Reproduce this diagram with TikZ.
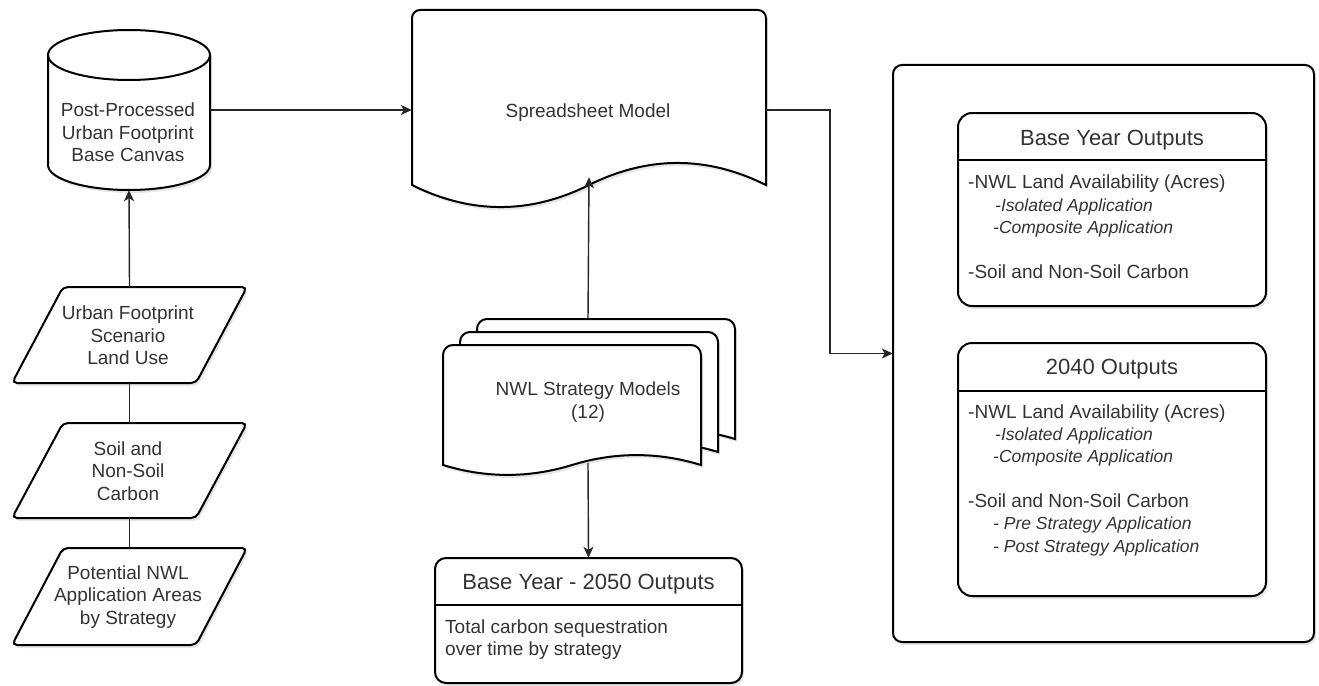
\documentclass[tikz,border=0pt]{standalone}
\usepackage{fontspec}
\setmainfont{Liberation Sans}
\usetikzlibrary{arrows.meta,shadows}
\definecolor{txtc}{HTML}{333333}
\definecolor{shadc}{HTML}{8A8AA0}
\tikzset{
  shp/.style={draw=black, line width=2pt, fill=white,
    drop shadow={shadow xshift=2pt, shadow yshift=-3pt, opacity=0.22, fill=shadc}},
  edgeline/.style={line width=2pt, draw=black},
  conn/.style={draw=black!85, line width=1.4pt, -{Stealth[length=11pt,width=10pt,inset=3pt]}},
  plainconn/.style={draw=black!85, line width=1.4pt},
  lbl/.style={font=\fontsize{19}{22.5}\selectfont, text=txtc, align=center, inner sep=0pt, text height=14pt, text depth=4pt},
  lbltwo/.style={lbl, font=\fontsize{19}{23}\selectfont, text height=37pt},
  lblthree/.style={lbl, text height=59pt},
  lbll/.style={lbl, align=left, anchor=west},
  itl/.style={font=\fontsize{17.5}{22}\selectfont\itshape, text=txtc, inner sep=0pt, anchor=west, text height=13pt, text depth=4pt},
  ttl/.style={font=\fontsize{22}{26}\selectfont, text=txtc, inner sep=0pt, text height=16pt, text depth=4pt},
  holder/.style={draw=none, fill=none, inner sep=0pt}
}
% document shape: x0, top, width, y of ends, control offset, corner radius
\newcommand\mydoc[6]{%
  \pgfmathsetmacro\dA{#1}%
  \pgfmathsetmacro\dB{#1+#3}%
  \pgfmathsetmacro\dM{#1+#3/2}%
  \pgfmathsetmacro\dS{#3/6}%
  \pgfmathsetmacro\dE{-(#4)}%
  \pgfmathsetmacro\dU{-(#4)+#5}%
  \pgfmathsetmacro\dL{-(#4)-#5}%
  \pgfmathsetmacro\dT{-(#2)}%
  \path[shp] (\dA,\dE) -- (\dA,\dT-#6) arc[start angle=180,end angle=90,radius=#6]
    -- (\dB-#6,\dT) arc[start angle=90,end angle=0,radius=#6] -- (\dB,\dE)
    .. controls (\dB-\dS,\dU) and (\dM+\dS,\dU) .. (\dM,\dE)
    .. controls (\dM-\dS,\dL) and (\dA+\dS,\dL) .. cycle;
}
\newcommand\mypara[2]{%
  \path[shp, rounded corners=5pt] (12,-#2) -- (63,-#1) -- (247,-#1) -- (196,-#2) -- cycle;
}
\begin{document}
\begin{tikzpicture}[x=1pt,y=1pt]
\useasboundingbox (0,0) rectangle (1319,-685);

% ---------- cylinder ----------
\path[shp] (48,-55) -- (48,-165) arc[start angle=180,end angle=360,x radius=81,y radius=25]
  -- (210,-55) arc[start angle=0,end angle=180,x radius=81,y radius=25] -- cycle;
\draw[edgeline] (48,-55) arc[start angle=180,end angle=360,x radius=81,y radius=25];
\node[holder, minimum width=162pt, minimum height=160pt] (cyl) at (129,-110) {};
\node[lblthree] (cyltext) at (128,-134) {Post-Processed\\Urban Footprint\\Base Canvas};

% ---------- parallelograms ----------
\mypara{287}{383}
\mypara{423}{518}
\mypara{548}{645}
\node[holder, minimum width=235pt, minimum height=96pt] (p1) at (129.5,-335) {};
\node[holder, minimum width=235pt, minimum height=95pt] (p2) at (129.5,-470.5) {};
\node[holder, minimum width=235pt, minimum height=97pt] (p3) at (129.5,-596.5) {};
\node[lblthree] (p1text) at (128,-337) {Urban Footprint\\Scenario\\Land Use};
\node[lblthree] (p2text) at (128,-472.5) {Soil and\\Non-Soil\\Carbon};
\node[lblthree] (p3text) at (128,-596.5) {Potential NWL\\Application Areas\\by Strategy};

% ---------- spreadsheet ----------
\mydoc{412}{10}{354}{185}{29.4}{8}
\node[holder, minimum width=354pt, minimum height=200pt] (ss) at (589,-110) {};
\node[lbl] (sstext) at (588,-112) {Spreadsheet Model};

% ---------- strategy stack ----------
\mydoc{477}{319}{258}{439}{13.2}{10}
\mydoc{460}{332}{258}{452}{13.2}{10}
\mydoc{443}{345}{258}{465}{13.2}{10}
\node[holder, minimum width=292pt, minimum height=156pt] (nwl) at (588,-397) {};
\node[lbltwo] (nwltext) at (588,-401.5) {NWL Strategy Models\\(12)};

% ---------- base year - 2050 ----------
\path[shp, rounded corners=11pt] (435,-558) rectangle (742,-683);
\draw[edgeline] (435,-605) -- (742,-605);
\node[holder, minimum width=307pt, minimum height=125pt] (b2050) at (588.5,-620.5) {};
\node[ttl] (b2050t) at (588.5,-583) {Base Year - 2050 Outputs};
\node[lbll] (b2050a) at (445,-628) {Total carbon sequestration};
\node[lbll] (b2050b) at (445,-650) {over time by strategy};

% ---------- outputs container ----------
\path[shp, rounded corners=9pt] (893,-65) rectangle (1314,-642);
\node[holder, minimum width=421pt, minimum height=577pt] (outbox) at (1103.5,-353.5) {};

\path[shp, rounded corners=14pt] (958,-113) rectangle (1266,-306);
\draw[edgeline] (958,-160) -- (1266,-160);
\node[ttl] (byt) at (1112,-139) {Base Year Outputs};
\node[lbll] (by1) at (968,-183) {-NWL Land Availability (Acres)};
\node[itl] (by2) at (995,-207) {-Isolated Application};
\node[itl] (by3) at (993,-229) {-Composite Application};
\node[lbll] (by4) at (968,-273) {-Soil and Non-Soil Carbon};

\path[shp, rounded corners=14pt] (958,-343) rectangle (1266,-596);
\draw[edgeline] (958,-391) -- (1266,-391);
\node[ttl] (ft) at (1112,-368) {2040 Outputs};
\node[lbll] (f1) at (968,-413) {-NWL Land Availability (Acres)};
\node[itl] (f2) at (995,-436) {-Isolated Application};
\node[itl] (f3) at (993,-458) {-Composite Application};
\node[lbll] (f4) at (968,-502) {-Soil and Non-Soil Carbon};
\node[itl] (f5) at (993,-525) {- Pre Strategy Application};
\node[itl] (f6) at (993,-548) {- Post Strategy Application};

% ---------- connectors ----------
\draw[conn] (cyl.east) -- (cyl.east -| ss.west);
\draw[conn] (p1.north) -- (cyl.south);
\draw[plainconn] (p1.south) -- (p2.north);
\draw[plainconn] (p2.south) -- (p3.north);
\draw[conn] (nwl.north) -- ([yshift=33pt]ss.south);
\draw[conn] ([yshift=12pt]nwl.south) -- (b2050.north);
\coordinate (bend) at (830,-110);
\draw[conn] (ss.east) -- (bend) |- (outbox.west);
\end{tikzpicture}
\end{document}
